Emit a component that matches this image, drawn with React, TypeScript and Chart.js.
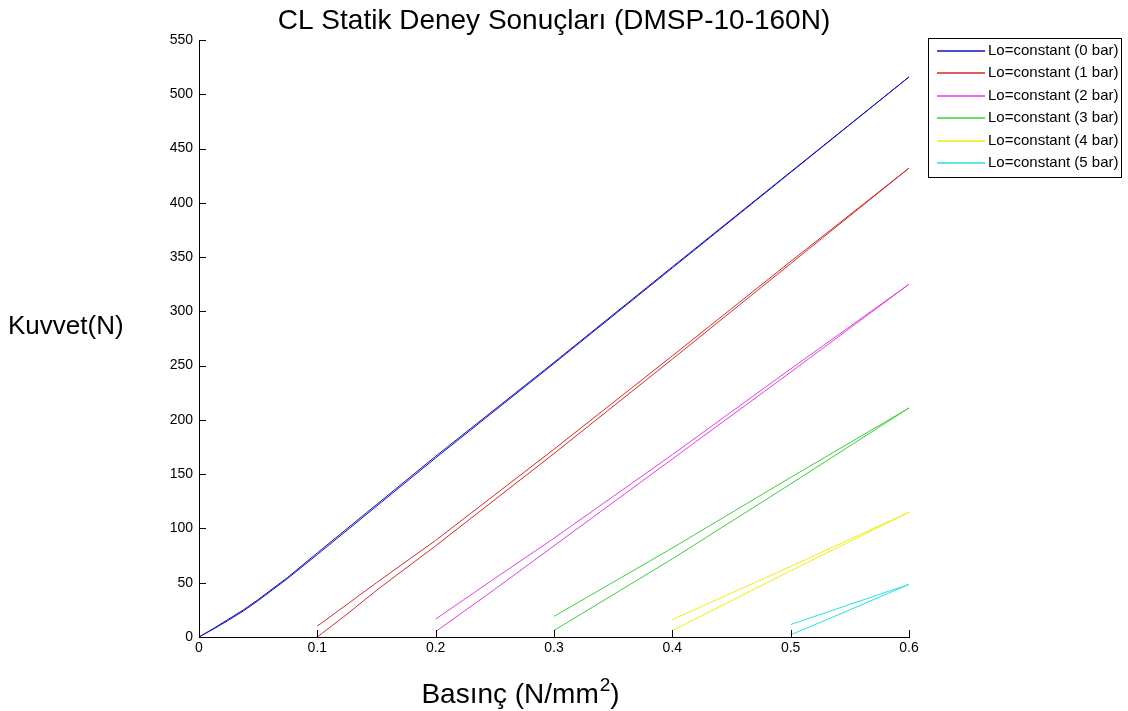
import React, { useEffect, useRef } from "react";
import { Chart, registerables } from "chart.js";

Chart.register(...registerables);

// ---- data (pressure N/mm², force N) ----
const P0 = [0, 0.0125, 0.025, 0.0375, 0.05, 0.075, 0.1, 0.2, 0.3, 0.4, 0.5, 0.6];
const F0_load = [0, 7.5, 15.5, 24, 33.5, 54, 76, 165, 252, 340, 428, 516];
const F0_unload = [0, 8, 16.5, 25, 34.5, 55, 77.5, 166.5, 253, 341, 428.5, 516];

const P1 = [0.1, 0.125, 0.15, 0.2, 0.3, 0.4, 0.5, 0.6];
const F1_load = [0, 21, 43, 84, 169, 256, 344, 432];
const F1_unload = [10, 30, 50, 89, 173, 259, 346, 432];

const P2 = [0.2, 0.25, 0.3, 0.4, 0.5, 0.6];
const F2_load = [5, 44, 84, 164, 244, 325];
const F2_unload = [16.5, 54, 91, 168, 247, 325];

const P3 = [0.3, 0.4, 0.5, 0.6];
const F3_load = [6, 72, 141, 211];
const F3_unload = [19, 82, 147, 211];

const P4 = [0.4, 0.5, 0.6];
const F4_load = [6, 61, 115];
const F4_unload = [16, 65, 115];

const P5 = [0.5, 0.55, 0.6];
const F5_load = [2, 25, 48.5];
const F5_unload = [11.5, 30, 48.5];

const seriesLabels = [
  "Lo=constant (0 bar)",
  "Lo=constant (1 bar)",
  "Lo=constant (2 bar)",
  "Lo=constant (3 bar)",
  "Lo=constant (4 bar)",
  "Lo=constant (5 bar)",
];
const seriesColors = ["#1212c4", "#d42a2a", "#e040e0", "#3ccf3c", "#eeee10", "#2ae0e0"];

const xTicks = [0, 0.1, 0.2, 0.3, 0.4, 0.5, 0.6];
const yTicks = [0, 50, 100, 150, 200, 250, 300, 350, 400, 450, 500, 550];

const titleText = "CL Statik Deney Sonuçları (DMSP-10-160N)";
const yTitle = "Kuvvet(N)";
const xTitleMain = "Basınç (N/mm";
const xTitleSup = "2";
const xTitleEnd = ")";

function loop(p: number[], load: number[], unload: number[]) {
  const up = p.map((x, i) => ({ x, y: load[i] }));
  const down = p.map((x, i) => ({ x, y: unload[i] })).reverse();
  return up.concat(down);
}

const FONT = '"Liberation Sans", Arial, Helvetica, sans-serif';

const decorPlugin = {
  id: "decor",
  afterDraw(chart: any) {
    const ctx = chart.ctx;
    const xs = chart.scales.x;
    const ys = chart.scales.y;
    const area = chart.chartArea;
    ctx.save();
    // inward ticks
    ctx.strokeStyle = "#000";
    ctx.lineWidth = 1;
    ctx.beginPath();
    xTicks.forEach((v) => {
      const px = Math.round(xs.getPixelForValue(v)) + 0.5;
      ctx.moveTo(px, area.bottom);
      ctx.lineTo(px, area.bottom - 7);
    });
    yTicks.forEach((v) => {
      const py = Math.round(ys.getPixelForValue(v)) + 0.5;
      ctx.moveTo(area.left, py);
      ctx.lineTo(area.left + 7, py);
    });
    ctx.stroke();

    ctx.fillStyle = "#000";
    // title
    ctx.font = `28px ${FONT}`;
    ctx.textAlign = "center";
    ctx.textBaseline = "alphabetic";
    ctx.fillText(titleText, (area.left + area.right) / 2, 29);

    // y title
    ctx.textAlign = "left";
    ctx.textBaseline = "middle";
    ctx.font = `26px ${FONT}`;
    ctx.fillText(yTitle, 8, 327);

    // x title with superscript
    ctx.textBaseline = "alphabetic";
    const mainFont = `28px ${FONT}`;
    const supFont = `19px ${FONT}`;
    ctx.font = mainFont;
    const w1 = ctx.measureText(xTitleMain).width;
    const w3 = ctx.measureText(xTitleEnd).width;
    ctx.font = supFont;
    const w2 = ctx.measureText(xTitleSup).width;
    const total = w1 + w2 + w3;
    const cx = 520;
    const x0 = cx - total / 2;
    const base = 703;
    ctx.font = mainFont;
    ctx.fillText(xTitleMain, x0, base);
    ctx.font = supFont;
    ctx.fillText(xTitleSup, x0 + w1 + 1, base - 12);
    ctx.font = mainFont;
    ctx.fillText(xTitleEnd, x0 + w1 + w2 + 1, base);

    // legend
    const lx = 928.5, ly = 38.5, lw = 193, lh = 139;
    ctx.fillStyle = "#fff";
    ctx.fillRect(lx, ly, lw, lh);
    ctx.strokeStyle = "#000";
    ctx.lineWidth = 1;
    ctx.strokeRect(lx, ly, lw, lh);
    ctx.font = `15px ${FONT}`;
    ctx.textBaseline = "middle";
    ctx.textAlign = "left";
    chart.data.datasets.forEach((ds: any, i: number) => {
      const y = Math.round(51 + i * 22.4);
      ctx.fillStyle = seriesColors[i];
      ctx.fillRect(937, y - 0.75, 48, 1.5);
      ctx.fillStyle = "#000";
      ctx.fillText(ds.label, 988, y);
    });
    ctx.restore();
  },
};

export default function App() {
  const ref = useRef<HTMLCanvasElement>(null);
  useEffect(() => {
    const canvas = ref.current;
    if (!canvas) return;
    document.body.style.margin = "0";
    const loops = [
      loop(P0, F0_load, F0_unload),
      loop(P1, F1_load, F1_unload),
      loop(P2, F2_load, F2_unload),
      loop(P3, F3_load, F3_unload),
      loop(P4, F4_load, F4_unload),
      loop(P5, F5_load, F5_unload),
    ];
    const chart = new Chart(canvas, {
      type: "scatter",
      data: {
        datasets: loops.map((d, i) => ({
          label: seriesLabels[i],
          data: d,
          showLine: true,
          borderColor: seriesColors[i],
          backgroundColor: seriesColors[i],
          borderWidth: 1,
          pointRadius: 0,
          tension: 0,
        })),
      },
      options: {
        responsive: false,
        animation: false,
        layout: { padding: { left: 149, right: 219, top: 40, bottom: 44 } },
        plugins: {
          legend: { display: false },
          title: { display: false },
          tooltip: { enabled: false },
        },
        scales: {
          x: {
            type: "linear",
            min: 0,
            max: 0.6,
            afterBuildTicks: (s: any) => {
              s.ticks = xTicks.map((v) => ({ value: v }));
            },
            ticks: {
              color: "#000",
              font: { family: FONT, size: 14 },
              padding: 3,
              maxRotation: 0,
              callback: (v: any) => String(Number(Number(v).toFixed(1))),
            },
            grid: { display: false, drawTicks: false },
            border: { display: true, color: "#000", width: 1 },
            afterFit: (s: any) => {
              s.height = 30;
            },
          },
          y: {
            type: "linear",
            min: 0,
            max: 550,
            afterBuildTicks: (s: any) => {
              s.ticks = yTicks.map((v) => ({ value: v }));
            },
            ticks: {
              color: "#000",
              font: { family: FONT, size: 14 },
              padding: 6,
            },
            grid: { display: false, drawTicks: false },
            border: { display: true, color: "#000", width: 1 },
            afterFit: (s: any) => {
              s.width = 50;
            },
          },
        },
      },
      plugins: [decorPlugin],
    });
    return () => chart.destroy();
  }, []);
  return (
    <div style={{ position: "fixed", left: 0, top: 0, width: 1128, height: 711, background: "#fff" }}>
      <canvas ref={ref} width={1128} height={711} style={{ display: "block", width: 1128, height: 711 }} />
    </div>
  );
}
